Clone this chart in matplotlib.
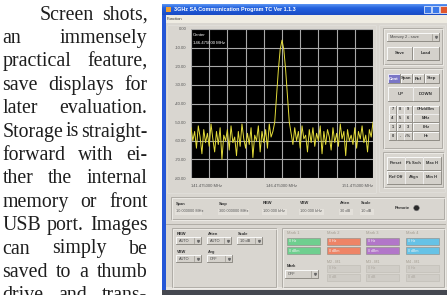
import numpy as np
import matplotlib.pyplot as plt
from matplotlib.patches import Rectangle, Circle
from matplotlib.colors import LinearSegmentedColormap

W, H = 447, 295

# article column (justified)
column_lines = [
    "Screen shots,",
    "an immensely",
    "practical feature,",
    "save displays for",
    "later evaluation.",
    "Storage is straight-",
    "forward with ei-",
    "ther the internal",
    "memory or front",
    "USB port. Images",
    "can simply be",
    "saved to a thumb",
    "drive and trans-",
]

# spectrum trace, dBm (101 samples over the span)
f_start, f_stop = 141.475, 151.475
trace_db = [
    -53, -60, -55, -64, -52, -58, -67, -54, -61, -56,
    -63, -51, -59, -66, -55, -62, -53, -70, -57, -60,
    -54, -65, -52, -61, -58, -68, -55, -63, -51, -59,
    -64, -56, -62, -53, -69, -57, -60, -52, -66, -55,
    -61, -54, -64, -51, -58, -55,
    -50, -36, -22, -11, -6, -11, -22, -36, -50,
    -56, -62, -53, -60, -55,
    -64, -52, -59, -57, -66, -54, -61, -53, -63, -56,
    -60, -52, -67, -55, -62, -54, -58, -65, -53, -61,
    -56, -63, -51, -59, -55, -68, -54, -60, -57, -62,
    -53, -64, -55, -59, -52, -61, -57, -66, -54, -58, -50,
]
db_ticks = [0, -10, -20, -30, -40, -50, -60, -70, -80]
freq_labels = ["141.475000 MHz", "146.475000 MHz", "151.475000 MHz"]

info_names = ["Span", "Stop", "RBW", "VBW", "Atten", "Scale"]
info_values = ["10.000000 MHz", "300.000000 MHz", "100.000 kHz", "100.000 kHz", "30 dB", "10 dB"]

keypad = [["7", "8", "9", "GHz/dBm"],
          ["4", "5", "6", "MHz"],
          ["1", "2", "3", "kHz"],
          ["0", ".", "-/%", "Hz"]]
mode_keys = ["Cent", "Span", "Ref", "Step"]
func_keys = [["Preset", "Pk Srch", "Max H"], ["Ref Off", "Align", "Min H"]]
marker_names = ["Mark 1", "Mark 2", "Mark 3", "Mark 4"]
marker_colors = ["#6fcf8f", "#ee8466", "#b276c9", "#66c2e6"]

APP = "#d9d6d0"
SANS = "Liberation Sans"

fig = plt.figure(figsize=(W / 100, H / 100), dpi=100)
fig.patch.set_facecolor("white")
ui = fig.add_axes([0, 0, 1, 1])
ui.set_axis_off()


def box(x, y, w, h, fc, ec="none", lw=0.6, z=1):
    ui.add_patch(Rectangle((x, y), w, h, facecolor=fc, edgecolor=ec, linewidth=lw, zorder=z))


def raised(x, y, w, h, label="", fc="#d4d1cb", size=3.2, color="#333333", bold=True):
    box(x, y, w, h, fc, z=3)
    ui.plot([x, x, x + w], [y + h, y, y], color="white", lw=0.6, zorder=4)
    ui.plot([x, x + w, x + w], [y + h, y + h, y], color="#85827b", lw=0.6, zorder=4)
    if label:
        ui.text(x + w / 2, y + h / 2, label, ha="center", va="center", fontsize=size,
                color=color, family=SANS, fontweight="bold" if bold else "normal", zorder=5)


def combo(x, y, w, h, label):
    raised(x, y, w, h)
    ui.text(x + 3, y + h / 2, label, ha="left", va="center", fontsize=2.8,
            color="#444444", family=SANS, zorder=5)
    ui.plot([x + w - 7, x + w - 7], [y + 1, y + h - 1], color="#9a978f", lw=0.5, zorder=5)
    ui.plot([x + w - 3.5], [y + h / 2], marker="v", ms=1.4, color="#666666", zorder=5)


def group(x, y, w, h):
    box(x, y, w, h, "none", ec="#a9a69f", lw=0.6, z=2)
    box(x + 0.8, y + 0.8, w, h, "none", ec="#f4f2ee", lw=0.5, z=2)


def label(x, y, s, size=3.0, color="#333333", bold=True, ha="left"):
    ui.text(x, y, s, ha=ha, va="center", fontsize=size, color=color, family=SANS,
            fontweight="bold" if bold else "normal", zorder=6)


# ---- window chrome
box(162, 4, W - 162, H - 4, APP, z=0)
box(162, 4, 3.5, H - 4, "#2456d6", z=1)
grad = np.linspace(0, 1, 30).reshape(-1, 1)
bar_cmap = LinearSegmentedColormap.from_list("bar", ["#5a94f2", "#2563de", "#1d56d4", "#1a4cc4"])
ui.imshow(grad, extent=[162, W, 15, 4], aspect="auto", cmap=bar_cmap, zorder=1)
box(165.5, 6.5, 5, 5, "#f0a030", z=2)
ui.text(174, 9.6, "3GHz SA Communication Program TC Ver 1.1.3", ha="left", va="center",
        fontsize=3.9, color="white", family=SANS, fontweight="bold", zorder=3)
for bx, bc in [(424, "#3b78e8"), (432, "#3b78e8"), (440, "#e0562c")]:
    box(bx, 6, 7, 7, bc, ec="white", lw=0.5, z=3)
box(165.5, 15, W - 165.5, 8, "#efece2", z=1)
label(167, 19, "Function", size=3.0, bold=False)
box(165.5, 286.5, W - 165.5, 3, "#e6e3de", z=1)
box(162, 290, W - 162, 5, "#454850", z=2)

# ---- panels
group(166.5, 24.5, 209, 168)
group(378.5, 24.5, 66, 167)
ui.plot([166, 445], [223.5, 223.5], color="#aaa79f", lw=0.6, zorder=2)

# ---- spectrum display
ax = fig.add_axes([191 / W, 1 - 178 / H, 182 / W, 149 / H])
ax.set_facecolor("black")
freq = np.linspace(f_start, f_stop, len(trace_db))
ax.plot(freq, trace_db, color="#e4dc3a", lw=0.7, zorder=3)
ax.set_xlim(f_start, f_stop)
ax.set_ylim(-80, 0)
ax.set_yticks(db_ticks)
ax.set_yticklabels([f"{v:.2f}" for v in db_ticks])
ax.set_xticks([f_start, (f_start + f_stop) / 2, f_stop])
ax.set_xticklabels(freq_labels)
ax.set_xticks(np.linspace(f_start, f_stop, 11), minor=True)
ax.tick_params(which="both", length=0, labelsize=3.0, labelcolor="#555555", pad=3.2)
ax.tick_params(axis="x", pad=4.5)
xl = ax.get_xticklabels()
xl[0].set_ha("left")
xl[2].set_ha("right")
for t in ax.get_xticklabels() + ax.get_yticklabels():
    t.set_family(SANS)
ax.grid(which="both", color="#a9a9a9", lw=0.8, zorder=1)
ax.set_axisbelow(True)
for s in ax.spines.values():
    s.set_visible(False)
ax.text(0.012, 0.96, "Center", transform=ax.transAxes, color="white", fontsize=3.1,
        family=SANS, va="center")
ax.text(0.012, 0.905, "146.475000 MHz", transform=ax.transAxes, color="white", fontsize=3.1,
        family=SANS, va="center")

# ---- right control column
group(383, 28, 59, 36)
combo(387, 33, 52, 8, "Memory 2 - save")
raised(387, 47, 25, 13, "Save")
raised(413, 47, 26, 13, "Load")

group(383, 68, 59, 80)
for key, kx, kw in zip(mode_keys, [388, 400.5, 412.5, 424.5], [12, 11.5, 11.5, 14.5]):
    if key == "Cent":
        raised(kx, 74, kw, 9, key, fc="#7a76c6", color="white")
    else:
        raised(kx, 74, kw, 9, key)
raised(388, 87, 24.5, 14, "UP")
raised(413, 87, 26, 14, "DOWN")
for r, row in enumerate(keypad):
    ky = 105.5 + r * 8.7
    for key, kx, kw in zip(row, [389, 396.5, 404, 413], [7, 7, 7.5, 26]):
        raised(kx, ky, kw, 8, key, size=2.9)

group(383, 152, 60, 35)
for r, row in enumerate(func_keys):
    ky = 156.5 + r * 14
    for key, kx in zip(row, [387, 405, 423]):
        raised(kx, ky, 17.5, 13, key, size=2.9)

# ---- measurement readout
group(171, 197, 273, 22)
for name, val, ix, bw in zip(info_names, info_values, [176, 219, 263, 300, 340, 361],
                             [27, 31, 25, 25, 14, 14]):
    label(ix, 203.5, name, size=2.9)
    box(ix - 1, 208.5, bw, 6, "#e3e0da", z=3)
    label(ix, 211.5, val, size=2.8, color="#555555", bold=False)
label(395, 208, "Remote", size=3.0)
ui.add_patch(Circle((416.5, 208), 2.8, facecolor="#2a2a2a", edgecolor="#777777", lw=0.4, zorder=5))

# ---- bottom left settings
group(172, 228, 104, 59)
for name, val, cx, cy, cw in [("RBW", "AUTO", 176, 234, 25), ("Atten", "AUTO", 207, 234, 24),
                              ("Scale", "10 dB", 237, 234, 25), ("VBW", "AUTO", 176, 252, 25),
                              ("Avg", "OFF", 207, 252, 25)]:
    label(cx + 1, cy, name, size=2.9)
    combo(cx, cy + 3, cw, 7, val)

# ---- markers
group(282, 228, 162, 59)
for i, (name, col) in enumerate(zip(marker_names, marker_colors)):
    mx = 287 + i * 39.7
    label(mx, 233.5, name, size=2.9, color="#a39c90", bold=False)
    box(mx, 237.5, 33, 7, col, ec="#8d8a84", lw=0.4, z=3)
    box(mx, 247, 33, 7, col, ec="#8d8a84", lw=0.4, z=3)
    label(mx + 2, 241, "0 Hz", size=2.6, color="#f4f4f4", bold=False)
    label(mx + 2, 250.5, "0 dBm", size=2.6, color="#f4f4f4", bold=False)
    if i == 0:
        label(mx, 266, "Mark", size=2.9)
        combo(mx - 2, 270, 33, 8, "OFF")
    else:
        label(mx, 262, f"M{i + 1} - M1", size=2.7, color="#a39c90", bold=False)
        box(mx, 265, 33, 6.5, "#d0cdc7", ec="#bdbab3", lw=0.4, z=3)
        box(mx, 274, 33, 6.5, "#d0cdc7", ec="#bdbab3", lw=0.4, z=3)
        label(mx + 2, 268.2, "0 Hz", size=2.6, color="#aaa59d", bold=False)
        label(mx + 2, 277.2, "0 dB", size=2.6, color="#aaa59d", bold=False)

ui.set_xlim(0, W)
ui.set_ylim(H, 0)

# ---- justified article text
renderer = fig.canvas.get_renderer()
left, right = 2.5, 147.5
for i, line in enumerate(column_lines):
    y = 19.5 + i * 23.4
    x0 = 39.5 if i == 0 else left
    words = line.split()
    size = 14.3
    while True:
        texts = [ui.text(0, y, w, fontsize=size, family="Liberation Serif", color="#1e1e1e",
                         va="baseline", ha="left") for w in words]
        widths = [t.get_window_extent(renderer).width for t in texts]
        gap = (right - x0 - sum(widths)) / max(len(words) - 1, 1)
        if gap >= 1.0 or size < 11:
            break
        for t in texts:
            t.remove()
        size -= 0.2
    x = x0
    for t, w in zip(texts, widths):
        t.set_x(x)
        x += w + gap

fig.savefig("out.png", dpi=100)
